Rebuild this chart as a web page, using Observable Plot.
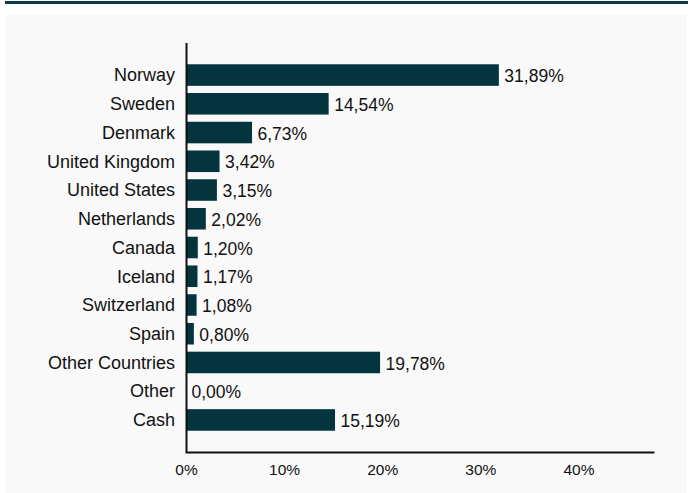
<!DOCTYPE html>
<html>
<head>
<meta charset="utf-8">
<script src="https://cdn.jsdelivr.net/npm/d3@7"></script>
<script src="https://cdn.jsdelivr.net/npm/@observablehq/plot@0.6"></script>
<style>
  html, body { margin: 0; padding: 0; background: #ffffff; width: 696px; height: 493px; overflow: hidden; }
  #topline { position: absolute; left: 5px; top: 1px; width: 683px; height: 3px; background: #0b3a44; }
  #panel { position: absolute; left: 6px; top: 15px; width: 681px; height: 478px; background: #f9f9f9; }
  #panel svg { display: block; }
</style>
</head>
<body>
<div id="topline"></div>
<div id="panel"></div>
<script>
const countries = ["Norway", "Sweden", "Denmark", "United Kingdom", "United States", "Netherlands", "Canada", "Iceland", "Switzerland", "Spain", "Other Countries", "Other", "Cash"];
const shares = [31.89, 14.54, 6.73, 3.42, 3.15, 2.02, 1.20, 1.17, 1.08, 0.80, 19.78, 0.00, 15.19];
const xTicks = [0, 10, 20, 30, 40];

const data = countries.map((c, i) => ({country: c, value: shares[i]}));
const fmt = v => v.toFixed(2).replace(".", ",") + "%";

const chart = Plot.plot({
  width: 681,
  height: 478,
  marginLeft: 180,
  marginRight: 34,
  marginTop: 28,
  marginBottom: 41,
  style: {background: "transparent", fontFamily: "Liberation Sans, Arial, sans-serif", color: "#111"},
  x: {domain: [0, 47.6], ticks: xTicks, tickFormat: d => d + "%", label: null},
  y: {domain: countries, paddingInner: 0.25, paddingOuter: 0.74, round: false, label: null},
  marks: [
    Plot.barX(data, {x: "value", y: "country", fill: "#04353f"}),
    Plot.text(data, {x: "value", y: "country", text: d => fmt(d.value), textAnchor: "start", dx: 5, dy: 1, fontSize: 17.5, fill: "#111"}),
    Plot.axisX({ticks: xTicks, tickFormat: d => d + "%", tickSize: 0, tickPadding: 11, fontSize: 15.5, label: null}),
    Plot.axisY({tickSize: 0, tickPadding: 11.5, fontSize: 18, label: null}),
    Plot.ruleX([0], {stroke: "#111", strokeWidth: 2}),
    Plot.frame({anchor: "bottom", stroke: "#111", strokeWidth: 2})
  ]
});
document.getElementById("panel").appendChild(chart);
</script>
</body>
</html>
